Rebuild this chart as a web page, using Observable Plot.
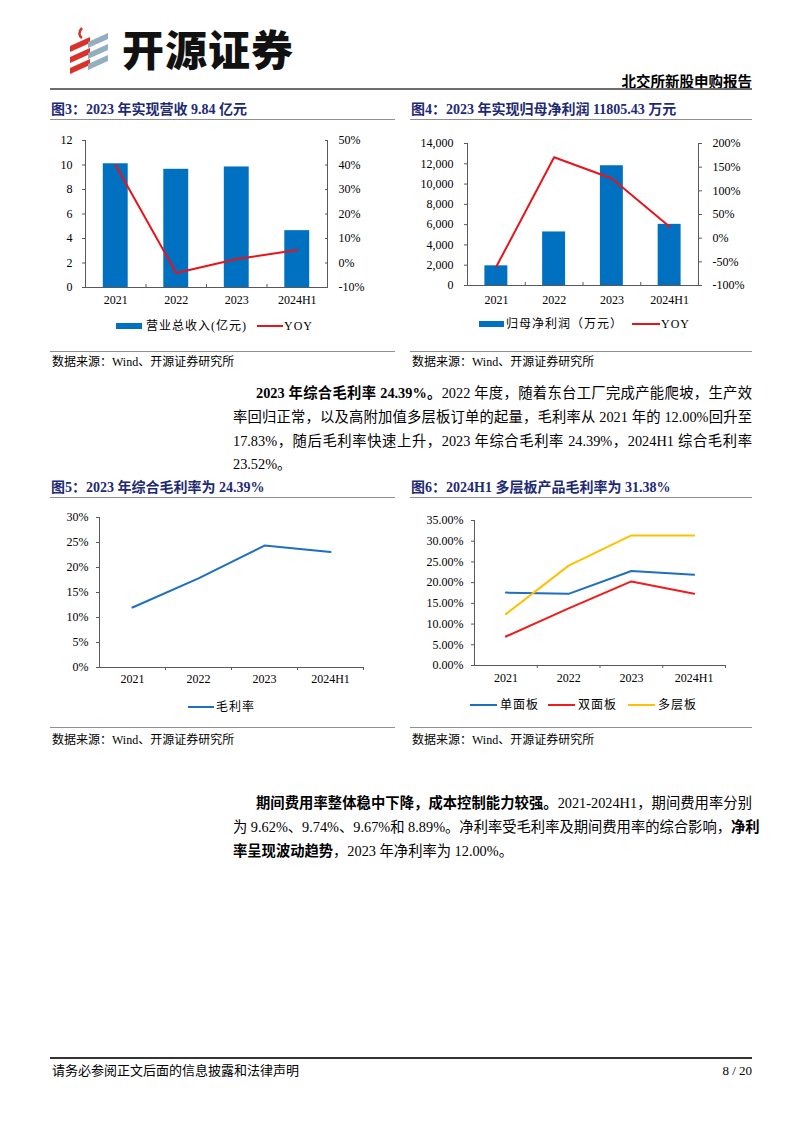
<!DOCTYPE html>
<html><head><meta charset="utf-8">
<script src="https://cdn.jsdelivr.net/npm/d3@7"></script>
<script src="https://cdn.jsdelivr.net/npm/@observablehq/plot@0.6"></script>
<style>
body{margin:0;background:#fff;}
#page{position:relative;width:802px;height:1133px;overflow:hidden;background:#fff;font-family:"Liberation Serif","Noto Sans CJK SC",serif;color:#000;}
.abs{position:absolute;white-space:nowrap;}
.title{font-size:14px;font-weight:bold;color:#1d2a73;line-height:20px;}
.hr{position:absolute;height:0;border-top:1px solid #909090;}
.src{font-size:12px;line-height:16px;}
.pl{position:absolute;font-size:14.3px;line-height:24px;white-space:nowrap;text-align:justify;text-align-last:justify;}
.pe{position:absolute;font-size:14.3px;line-height:24px;white-space:nowrap;}
.lg{position:absolute;font-size:12px;line-height:16px;letter-spacing:1px;white-space:nowrap;font-family:"Liberation Serif","Noto Sans CJK SC",serif;}
.sw{position:absolute;}
.chart{position:absolute;}
</style></head>
<body><div id="page">
<svg class="abs" style="left:60px;top:24px" width="60" height="54">
  <path d="M22,4 C18,8 19,12 22,14" stroke="#d9322b" stroke-width="2.5" fill="none"/>
  <polygon points="10,22 30,13 30,19 10,28" fill="#d9322b"/>
  <polygon points="10,33 30,24 30,30 10,39" fill="#d9322b"/>
  <polygon points="10,44 30,35 30,41 10,50" fill="#d9322b"/>
  <polygon points="28,18 48,9 48,15 28,24" fill="#93aebd"/>
  <polygon points="28,29 48,20 48,26 28,35" fill="#93aebd"/>
  <polygon points="28,40 48,31 48,37 28,46" fill="#93aebd"/>
</svg>
<div class="abs" style="left:122px;top:22px;font-family:'Noto Sans CJK SC';font-weight:900;font-size:42px;line-height:52px;letter-spacing:1px;color:#111;">开源证券</div>
<div class="abs" style="right:50px;top:73px;font-size:14.5px;font-weight:bold;line-height:18px;">北交所新股申购报告</div>
<div class="abs" style="left:50px;top:88px;width:702px;height:2px;background:#6e6e6e;"></div>

<div class="abs title" style="left:51px;top:100px;">图3：2023 年实现营收 9.84 亿元</div>
<div class="abs title" style="left:411px;top:100px;">图4：2023 年实现归母净利润 11805.43 万元</div>
<div class="hr" style="left:50px;top:119px;width:345px;"></div>
<div class="hr" style="left:410px;top:119px;width:342px;"></div>
<div class="chart" id="c1" style="left:50px;top:125px;"></div>
<div class="chart" id="c2" style="left:410px;top:125px;"></div>
<div class="hr" style="left:50px;top:351px;width:345px;"></div>
<div class="hr" style="left:410px;top:351px;width:342px;"></div>
<div class="abs src" style="left:52px;top:354px;">数据来源：Wind、开源证券研究所</div>
<div class="abs src" style="left:412px;top:354px;">数据来源：Wind、开源证券研究所</div>

<div class="pl" style="left:256px;top:381px;width:496px;"><b>2023 年综合毛利率 24.39%。</b>2022 年度，随着东台工厂完成产能爬坡，生产效</div>
<div class="pl" style="left:233px;top:405px;width:519px;">率回归正常，以及高附加值多层板订单的起量，毛利率从 2021 年的 12.00%回升至</div>
<div class="pl" style="left:233px;top:429px;width:519px;">17.83%，随后毛利率快速上升，2023 年综合毛利率 24.39%，2024H1 综合毛利率</div>
<div class="pe" style="left:233px;top:452px;">23.52%。</div>

<div class="abs title" style="left:51px;top:478px;">图5：2023 年综合毛利率为 24.39%</div>
<div class="abs title" style="left:411px;top:478px;">图6：2024H1 多层板产品毛利率为 31.38%</div>
<div class="hr" style="left:50px;top:497px;width:345px;"></div>
<div class="hr" style="left:410px;top:497px;width:342px;"></div>
<div class="chart" id="c3" style="left:50px;top:505px;"></div>
<div class="chart" id="c4" style="left:410px;top:505px;"></div>
<div class="hr" style="left:50px;top:727px;width:345px;"></div>
<div class="hr" style="left:410px;top:727px;width:342px;"></div>
<div class="abs src" style="left:52px;top:732px;">数据来源：Wind、开源证券研究所</div>
<div class="abs src" style="left:412px;top:732px;">数据来源：Wind、开源证券研究所</div>

<div class="pl" style="left:256px;top:791px;width:496px;"><b>期间费用率整体稳中下降，成本控制能力较强。</b>2021-2024H1，期间费用率分别</div>
<div class="pl" style="left:233px;top:815px;width:519px;">为 9.62%、9.74%、9.67%和 8.89%。净利率受毛利率及期间费用率的综合影响，<b>净利</b></div>
<div class="pe" style="left:233px;top:839px;"><b>率呈现波动趋势</b>，2023 年净利率为 12.00%。</div>

<div class="abs" style="left:50px;top:1057px;width:702px;height:1.5px;background:#333;"></div>
<div class="abs" style="left:52px;top:1063px;font-size:13px;line-height:16px;">请务必参阅正文后面的信息披露和法律声明</div>
<div class="abs" style="right:50px;top:1063px;font-size:13px;line-height:16px;">8 / 20</div>
<div id="legends"></div>
</div>
<script>
// ---- data ----
const categories = ["2021", "2022", "2023", "2024H1"];
const revenue = [10.1, 9.65, 9.84, 4.64];          // 营业总收入(亿元)
const revenueYoy = [39.9, -4.1, 1.6, 5.3];         // YOY %
const netProfit = [1940, 5280, 11805.43, 6030];    // 归母净利润(万元)
const netProfitYoy = [-60, 171, 126, 24];          // YOY %
const grossMargin = [12.0, 17.83, 24.39, 23.1];    // 毛利率 %
const singleSided = [17.6, 17.3, 22.8, 21.9];      // 单面板 %
const doubleSided = [7.0, 13.8, 20.3, 17.3];       // 双面板 %
const multiLayer = [12.4, 24.1, 31.4, 31.4];       // 多层板 %
const leftTicks1 = [0, 2, 4, 6, 8, 10, 12];
const rightTicks1 = [-10, 0, 10, 20, 30, 40, 50];
const leftTicks2 = [0, 2000, 4000, 6000, 8000, 10000, 12000, 14000];
const rightTicks2 = [-100, -50, 0, 50, 100, 150, 200];
const ticks5 = [0, 5, 10, 15, 20, 25, 30];
const ticks6 = [0, 5, 10, 15, 20, 25, 30, 35];
const seriesNames = ["单面板", "双面板", "多层板"];
const seriesColors = ["#1f6fc0", "#ee1c1c", "#ffc000"];

const AX = "#595959";
const base = {fontFamily: '"Liberation Serif","Noto Sans CJK SC",serif', fontSize: "12px", color: "#000", background: "transparent", overflow: "visible"};
const centers = categories.map((c, i) => i + 0.5);
const bounds = categories.map((c, i) => i + 1);
const catLabel = d => categories[Math.floor(d)];

// ---- chart 1 ----
const t1 = categories.map((c, i) => ({i, v: revenue[i], yoy: revenueYoy[i]}));
const f1 = v => (v + 10) / 60 * 12, f1i = y => y / 12 * 60 - 10;
document.getElementById("c1").append(Plot.plot({
  width: 345, height: 190, marginLeft: 35, marginRight: 68, marginTop: 15, marginBottom: 28,
  style: base,
  x: {domain: [0, categories.length], axis: null},
  y: {domain: [0, 12], axis: null},
  marks: [
    Plot.rectY(t1, {x: "i", interval: 1, y: "v", fill: "#0070c0", insetLeft: 17.8, insetRight: 17.8}),
    Plot.frame({anchor: "left", stroke: AX}),
    Plot.frame({anchor: "right", stroke: AX}),
    Plot.ruleY([0], {stroke: AX}),
    Plot.line(t1, {x: d => d.i + 0.5, y: d => f1(d.yoy), stroke: "#e8141c", strokeWidth: 2}),
    Plot.axisY(leftTicks1, {anchor: "left", tickSize: 3, tickPadding: 10, stroke: AX, label: null}),
    Plot.axisY(rightTicks1.map(f1), {anchor: "right", tickSize: -3, tickPadding: 14, stroke: AX, tickFormat: d => Math.round(f1i(d)) + "%", label: null}),
    Plot.axisX(centers, {anchor: "bottom", tickSize: 0, tickPadding: 8, tickFormat: catLabel, label: null}),
    Plot.axisX(bounds, {anchor: "bottom", tickSize: -3, stroke: AX, tickFormat: () => "", label: null})
  ]
}));

// ---- chart 2 ----
const t2 = categories.map((c, i) => ({i, v: netProfit[i], yoy: netProfitYoy[i]}));
const f2 = v => (v + 100) / 300 * 14000, f2i = y => y / 14000 * 300 - 100;
document.getElementById("c2").append(Plot.plot({
  width: 342, height: 190, marginLeft: 57, marginRight: 54, marginTop: 18, marginBottom: 30,
  style: base,
  x: {domain: [0, categories.length], axis: null},
  y: {domain: [0, 14000], axis: null},
  marks: [
    Plot.rectY(t2, {x: "i", interval: 1, y: "v", fill: "#0070c0", insetLeft: 17.4, insetRight: 17.4}),
    Plot.frame({anchor: "left", stroke: AX}),
    Plot.frame({anchor: "right", stroke: AX}),
    Plot.ruleY([0], {stroke: AX}),
    Plot.line(t2, {x: d => d.i + 0.5, y: d => f2(d.yoy), stroke: "#e8141c", strokeWidth: 2}),
    Plot.axisY(leftTicks2, {anchor: "left", tickSize: 3, tickPadding: 11, stroke: AX, tickFormat: d3.format(","), label: null}),
    Plot.axisY(rightTicks2.map(f2), {anchor: "right", tickSize: 3, tickPadding: 11, stroke: AX, tickFormat: d => Math.round(f2i(d)) + "%", label: null}),
    Plot.axisX(centers, {anchor: "bottom", tickSize: 0, tickPadding: 10, tickFormat: catLabel, label: null}),
    Plot.axisX(bounds, {anchor: "bottom", tickSize: -3, stroke: AX, tickFormat: () => "", label: null})
  ]
}));

// ---- chart 3 ----
const t3 = categories.map((c, i) => ({i: i + 0.5, v: grossMargin[i]}));
document.getElementById("c3").append(Plot.plot({
  width: 345, height: 185, marginLeft: 49, marginRight: 32, marginTop: 12, marginBottom: 23,
  style: base,
  x: {domain: [0, categories.length], axis: null},
  y: {domain: [0, 30], axis: null},
  marks: [
    Plot.frame({anchor: "left", stroke: AX}),
    Plot.ruleY([0], {stroke: AX}),
    Plot.line(t3, {x: "i", y: "v", stroke: "#1f6fc0", strokeWidth: 2}),
    Plot.axisY(ticks5, {anchor: "left", tickSize: 3, tickPadding: 8, stroke: AX, tickFormat: d => d + "%", label: null}),
    Plot.axisX(centers, {anchor: "bottom", tickSize: 0, tickPadding: 7, tickFormat: catLabel, label: null}),
    Plot.axisX(bounds, {anchor: "bottom", tickSize: 3, stroke: AX, tickFormat: () => "", label: null})
  ]
}));

// ---- chart 4 ----
const t4 = [];
[singleSided, doubleSided, multiLayer].forEach((arr, s) => arr.forEach((v, i) => t4.push({s: seriesNames[s], i: i + 0.5, v})));
document.getElementById("c4").append(Plot.plot({
  width: 342, height: 185, marginLeft: 64, marginRight: 27, marginTop: 15, marginBottom: 25,
  style: base,
  x: {domain: [0, categories.length], axis: null},
  y: {domain: [0, 35], axis: null},
  color: {domain: seriesNames, range: seriesColors},
  marks: [
    Plot.frame({anchor: "left", stroke: AX}),
    Plot.ruleY([0], {stroke: AX}),
    Plot.line(t4, {x: "i", y: "v", z: "s", stroke: "s", strokeWidth: 2}),
    Plot.axisY(ticks6, {anchor: "left", tickSize: 3, tickPadding: 8, stroke: AX, tickFormat: d => d.toFixed(2) + "%", label: null}),
    Plot.axisX(centers, {anchor: "bottom", tickSize: 0, tickPadding: 8, tickFormat: catLabel, label: null}),
    Plot.axisX(bounds, {anchor: "bottom", tickSize: 3, stroke: AX, tickFormat: () => "", label: null})
  ]
}));

// ---- legends ----
const L = document.getElementById("legends");
function item(type, color, x, w, cy, label, lx) {
  const s = document.createElement("div");
  s.className = "sw";
  const h = type === "rect" ? 6 : 2;
  s.style.cssText = `left:${x}px;top:${cy - h / 2}px;width:${w}px;height:${h}px;background:${color};`;
  L.append(s);
  const t = document.createElement("div");
  t.className = "lg";
  t.style.cssText = `left:${lx}px;top:${cy - 8}px;`;
  t.textContent = label;
  L.append(t);
}
item("rect", "#0070c0", 116, 26, 326, "营业总收入(亿元)", 146);
item("line", "#e8141c", 257, 26, 326, "YOY", 284);
item("rect", "#0070c0", 479, 25, 324, "归母净利润（万元）", 506);
item("line", "#e8141c", 632, 28, 324, "YOY", 661);
item("line", "#1f6fc0", 188, 26, 707, "毛利率", 216);
seriesNames.forEach((n, k) => item("line", seriesColors[k], [470, 548, 628][k], 27, 705, n, [500, 578, 658][k]));
</script>
</body></html>
